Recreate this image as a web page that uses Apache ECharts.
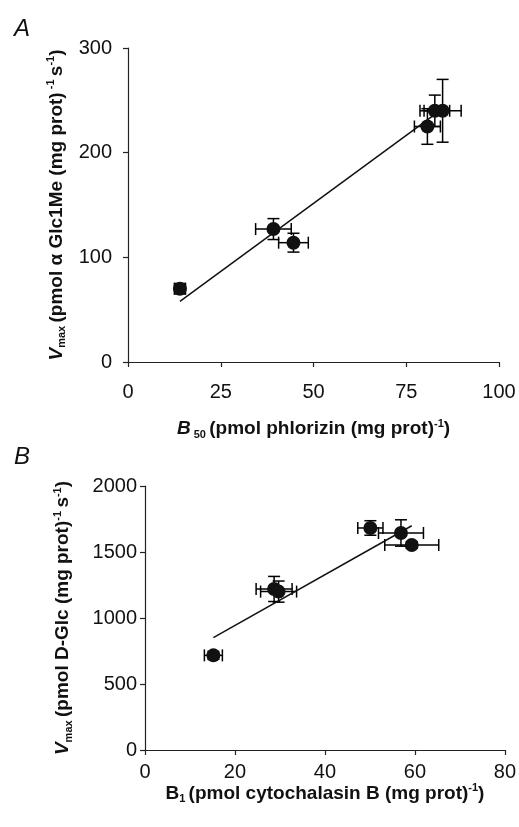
<!DOCTYPE html>
<html>
<head>
<meta charset="utf-8">
<script src="https://cdn.jsdelivr.net/npm/echarts@6/dist/echarts.min.js"></script>
<style>
  html, body { margin: 0; padding: 0; background: #fff; }
  #chart { width: 519px; height: 827px; }
</style>
</head>
<body>
<div id="chart"></div>
<script>
  // panel A: phlorizin binding vs Vmax
  const aX = [14, 39.2, 44.6, 80.7, 82.7, 84.8]
  const aY = [70, 127, 114, 225, 240, 240]
  const aXErr = [1.5, 4.8, 4, 3.5, 4, 5]
  const aYErr = [5, 10, 9, 17, 15, 30]
  const aFitX = [14, 84]
  const aFitY = [58, 240]
  const aXTicks = [0, 25, 50, 75, 100]
  const aYTicks = [0, 100, 200, 300]

  // panel B: cytochalasin B binding vs Vmax
  const bX = [15.2, 28.7, 29.7, 50.1, 56.9, 59.3]
  const bY = [717, 1220, 1200, 1682, 1644, 1553]
  const bXErr = [2, 4, 4, 2.8, 5, 6]
  const bYErr = [30, 95, 80, 55, 100, 25]
  const bFitX = [15.2, 59.3]
  const bFitY = [851, 1699]
  const bXTicks = [0, 20, 40, 60, 80]
  const bYTicks = [0, 500, 1000, 1500, 2000]

  const font = 'Liberation Sans, Arial, sans-serif'

  function zip(xs, ys, ex, ey){
    return xs.map((x, i) => ey ? [x, ys[i], ex[i], ey[i]] : [x, ys[i]])
  }

  function errorBars(params, api){
    const x = api.value(0), y = api.value(1), ex = api.value(2), ey = api.value(3)
    const l = api.coord([x - ex, y]), r = api.coord([x + ex, y])
    const t = api.coord([x, y + ey]), b = api.coord([x, y - ey])
    const cap = 6
    const seg = (x1, y1, x2, y2) => ({
      type: 'line',
      shape: { x1, y1, x2, y2 },
      style: { stroke: '#000', lineWidth: 1.5 }
    })
    return {
      type: 'group',
      children: [
        seg(l[0], l[1], r[0], r[1]),
        seg(l[0], l[1] - cap, l[0], l[1] + cap),
        seg(r[0], r[1] - cap, r[0], r[1] + cap),
        seg(t[0], t[1], b[0], b[1]),
        seg(t[0] - cap, t[1], t[0] + cap, t[1]),
        seg(b[0] - cap, b[1], b[0] + cap, b[1])
      ]
    }
  }

  const nameRich = {
    b: { fontSize: 19, fontWeight: 'bold', fontFamily: font, color: '#111', lineHeight: 22 },
    bi: { fontSize: 19, fontWeight: 'bold', fontStyle: 'italic', fontFamily: font, color: '#111', lineHeight: 22 },
    sub: { fontSize: 11, fontWeight: 'bold', fontFamily: font, color: '#111', lineHeight: 11, verticalAlign: 'bottom' },
    sup: { fontSize: 11, fontWeight: 'bold', fontFamily: font, color: '#111', lineHeight: 11, verticalAlign: 'top' }
  }

  function valueAxis(idx, ticks, name, gap, margin){
    return {
      type: 'value',
      gridIndex: idx,
      min: ticks[0],
      max: ticks[ticks.length - 1],
      interval: ticks[1] - ticks[0],
      name: name,
      nameLocation: 'middle',
      nameGap: gap,
      nameTextStyle: { rich: nameRich },
      splitLine: { show: false },
      axisLine: { show: true, onZero: false, lineStyle: { color: '#222', width: 1.2 } },
      axisTick: { show: true, length: 5, lineStyle: { color: '#222', width: 1.2 } },
      axisLabel: { color: '#111', fontSize: 20, fontFamily: font, margin: margin, formatter: v => String(v) }
    }
  }

  const myChart = echarts.init(document.getElementById('chart'))
  myChart.setOption({
    backgroundColor: '#fff',
    animation: false,
    title: [
      { text: 'A', left: 9, top: 12, textStyle: { fontSize: 24, fontStyle: 'italic', fontWeight: 'normal', fontFamily: font, color: '#111' } },
      { text: 'B', left: 9, top: 440, textStyle: { fontSize: 24, fontStyle: 'italic', fontWeight: 'normal', fontFamily: font, color: '#111' } }
    ],
    grid: [
      { left: 128, right: 20, top: 48, bottom: 465 },
      { left: 145, right: 12, top: 486, bottom: 77 }
    ],
    xAxis: [
      valueAxis(0, aXTicks, '{bi|B}{sub| 50} {b|(pmol phlorizin (mg prot)}{sup|-1}{b|)}', 56, 20),
      valueAxis(1, bXTicks, '{b|B}{sub|1} {b|(pmol cytochalasin B (mg prot)}{sup|-1}{b|)}', 28, 12)
    ],
    yAxis: [
      valueAxis(0, aYTicks, '{bi|V}{sub|max} {b|(pmol α Glc1Me (mg prot)}{sup| -1} {b|s}{sup|-1}{b|)}', 60, 16),
      valueAxis(1, bYTicks, '{bi|V}{sub|max} {b|(pmol D-Glc (mg prot)}{sup|-1} {b|s}{sup|-1}{b|)}', 71, 8)
    ],
    series: [
      {
        type: 'line', xAxisIndex: 0, yAxisIndex: 0,
        data: zip(aFitX, aFitY), symbol: 'none',
        lineStyle: { color: '#111', width: 1.5 }
      },
      {
        type: 'custom', xAxisIndex: 0, yAxisIndex: 0,
        data: zip(aX, aY, aXErr, aYErr), renderItem: errorBars
      },
      {
        type: 'scatter', xAxisIndex: 0, yAxisIndex: 0,
        data: zip(aX, aY), symbol: 'circle', symbolSize: 14,
        itemStyle: { color: '#111', opacity: 1 }
      },
      {
        type: 'line', xAxisIndex: 1, yAxisIndex: 1,
        data: zip(bFitX, bFitY), symbol: 'none',
        lineStyle: { color: '#111', width: 1.5 }
      },
      {
        type: 'custom', xAxisIndex: 1, yAxisIndex: 1,
        data: zip(bX, bY, bXErr, bYErr), renderItem: errorBars
      },
      {
        type: 'scatter', xAxisIndex: 1, yAxisIndex: 1,
        data: zip(bX, bY), symbol: 'circle', symbolSize: 14,
        itemStyle: { color: '#111', opacity: 1 }
      }
    ]
  })
</script>
</body>
</html>
